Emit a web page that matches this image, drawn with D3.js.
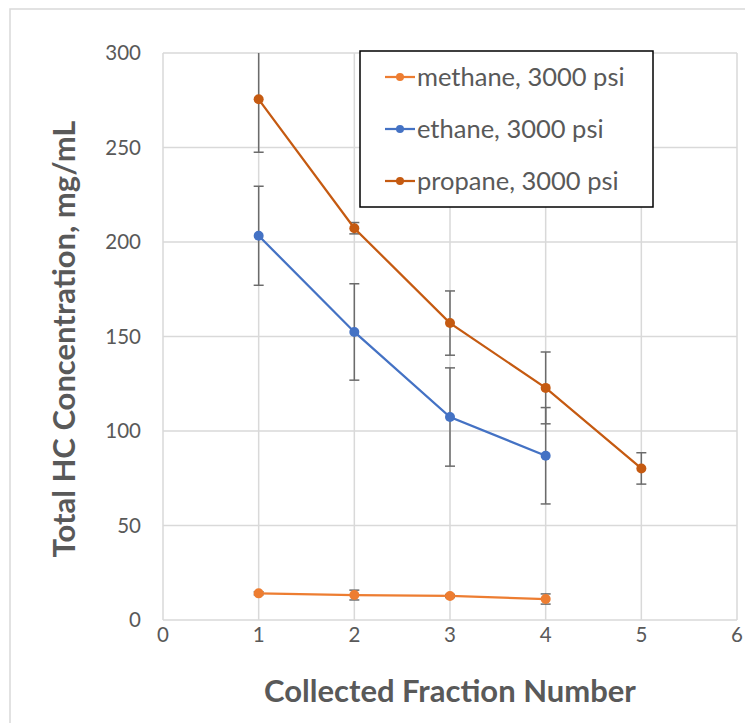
<!DOCTYPE html>
<html>
<head>
<meta charset="utf-8">
<script src="https://cdn.jsdelivr.net/npm/d3@7"></script>
<style>
  body { margin: 0; background: #fff; }
  text { font-family: Lato, "Open Sans", sans-serif; fill: #595959; }
</style>
</head>
<body>
<svg width="745" height="723"></svg>
<script>
// data
const fractions = [1, 2, 3, 4, 5];
const seriesNames = ["methane, 3000 psi", "ethane, 3000 psi", "propane, 3000 psi"];
const methane = [14.1, 13.2, 12.7, 11.1];
const methaneErr = [0.8, 2.6, 0.8, 2.7];
const ethane = [203.3, 152.4, 107.4, 86.9];
const ethaneErr = [26.2, 25.5, 26, 25.5];
const propane = [275.5, 207.3, 157.1, 122.8, 80.2];
const propaneErr = [28, 3, 17, 19, 8.3];
const xTicks = [0, 1, 2, 3, 4, 5, 6];
const yTicks = [0, 50, 100, 150, 200, 250, 300];
const colors = ["#ED7D31", "#4472C4", "#C55A11"];

const series = [
  { name: seriesNames[0], vals: methane, err: methaneErr, color: colors[0] },
  { name: seriesNames[1], vals: ethane, err: ethaneErr, color: colors[1] },
  { name: seriesNames[2], vals: propane, err: propaneErr, color: colors[2] }
].map(s => ({ ...s, pts: s.vals.map((v, i) => ({ x: fractions[i], y: v, e: s.err[i] })) }));

const svg = d3.select("svg");
const x = d3.scaleLinear().domain([0, 6]).range([163, 737]);
const y = d3.scaleLinear().domain([0, 300]).range([620, 53]);

// outer chart frame
svg.append("rect").attr("x", 10).attr("y", 9).attr("width", 760).attr("height", 740)
  .attr("fill", "none").attr("stroke", "#d9d9d9").attr("stroke-width", 1.5);

svg.append("clipPath").attr("id", "plot")
  .append("rect").attr("x", 160).attr("y", 53).attr("width", 580).attr("height", 570);

// gridlines
svg.append("g").selectAll("line").data(yTicks).join("line")
  .attr("x1", x(0)).attr("x2", x(6)).attr("y1", d => y(d)).attr("y2", d => y(d))
  .attr("stroke", "#d9d9d9").attr("stroke-width", 1.5);
svg.append("g").selectAll("line").data(xTicks).join("line")
  .attr("y1", y(0)).attr("y2", y(300)).attr("x1", d => x(d)).attr("x2", d => x(d))
  .attr("stroke", "#d9d9d9").attr("stroke-width", 1.5);

// tick labels
svg.append("g").selectAll("text").data(yTicks).join("text")
  .attr("x", 141).attr("y", d => y(d)).attr("dy", "0.35em")
  .attr("text-anchor", "end").attr("font-size", 20.5).text(d => d);
svg.append("g").selectAll("text").data(xTicks).join("text")
  .attr("x", d => x(d)).attr("y", 642)
  .attr("text-anchor", "middle").attr("font-size", 20.5).text(d => d);

// axis titles
svg.append("text").attr("x", 450).attr("y", 702).attr("text-anchor", "middle")
  .attr("font-size", 31).attr("font-weight", "bold").text("Collected Fraction Number");
svg.append("text").attr("transform", "translate(75,339) rotate(-90)").attr("text-anchor", "middle")
  .attr("font-size", 31).attr("font-weight", "bold").text("Total HC Concentration, mg/mL");

const plot = svg.append("g").attr("clip-path", "url(#plot)");

// error bars
series.forEach(s => {
  const g = plot.append("g").attr("stroke", "#6b6b6b").attr("stroke-width", 1.5);
  g.selectAll(".v").data(s.pts).join("line")
    .attr("x1", d => x(d.x)).attr("x2", d => x(d.x))
    .attr("y1", d => y(d.y - d.e)).attr("y2", d => y(d.y + d.e));
  g.selectAll(".t").data(s.pts).join("line")
    .attr("x1", d => x(d.x) - 5).attr("x2", d => x(d.x) + 5)
    .attr("y1", d => y(d.y + d.e)).attr("y2", d => y(d.y + d.e));
  g.selectAll(".b").data(s.pts).join("line")
    .attr("x1", d => x(d.x) - 5).attr("x2", d => x(d.x) + 5)
    .attr("y1", d => y(d.y - d.e)).attr("y2", d => y(d.y - d.e));
});

// lines and markers
const line = d3.line().x(d => x(d.x)).y(d => y(d.y));
series.forEach(s => {
  plot.append("path").datum(s.pts).attr("d", line)
    .attr("fill", "none").attr("stroke", s.color).attr("stroke-width", 2.25);
  plot.append("g").selectAll("circle").data(s.pts).join("circle")
    .attr("cx", d => x(d.x)).attr("cy", d => y(d.y)).attr("r", 5)
    .attr("fill", s.color);
});

// legend
const lg = svg.append("g");
lg.append("rect").attr("x", 360).attr("y", 51).attr("width", 293).attr("height", 156)
  .attr("fill", "#fff").attr("stroke", "#000").attr("stroke-width", 1.5);
const items = lg.selectAll("g").data(series).join("g")
  .attr("transform", (d, i) => `translate(0,${77 + i * 52})`);
items.append("line").attr("x1", 385).attr("x2", 415)
  .attr("stroke", d => d.color).attr("stroke-width", 2.25);
items.append("circle").attr("cx", 400).attr("r", 4).attr("fill", d => d.color);
items.append("text").attr("x", 417).attr("dy", "0.35em").attr("font-size", 25.5)
  .text(d => d.name);
</script>
</body>
</html>
